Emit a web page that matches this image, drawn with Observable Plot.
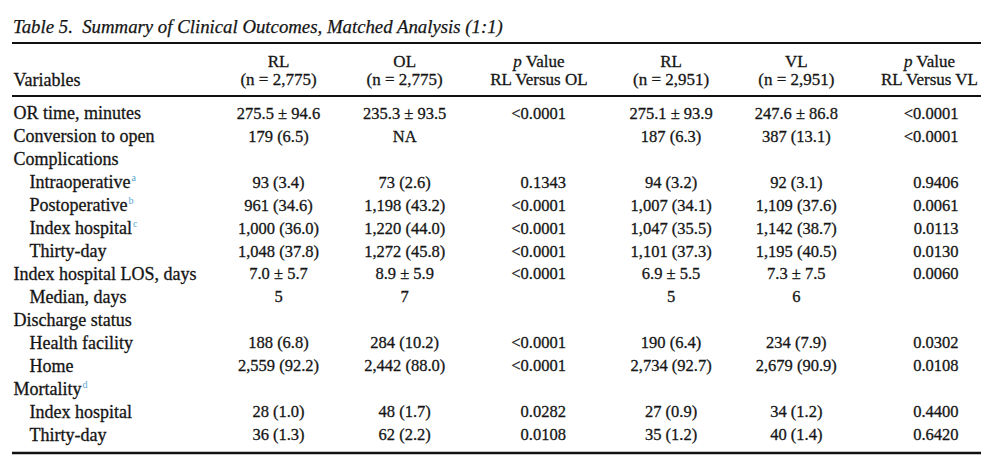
<!DOCTYPE html>
<html>
<head>
<meta charset="utf-8">
<script src="https://cdn.jsdelivr.net/npm/d3@7"></script>
<script src="https://cdn.jsdelivr.net/npm/@observablehq/plot@0.6"></script>
<style>
  html, body { margin: 0; padding: 0; background: #fff; }
  #title {
    margin-left: 12px; width: 969px; height: 44px; box-sizing: border-box;
    border-bottom: 2.5px solid #111; padding-top: 18px; padding-left: 1px;
    font-family: "Liberation Serif", serif; font-style: italic; font-size: 18.8px;
    line-height: 1; color: #151515; white-space: pre;
    -webkit-text-stroke: 0.25px #151515;
  }
  #chart svg { display: block; }
</style>
</head>
<body>
<div id="title">Table 5.  Summary of Clinical Outcomes, Matched Analysis (1:1)</div>
<div id="chart"></div>
<script>
// ---- data ----
const rowLabels = ["OR time, minutes","Conversion to open","Complications","Intraoperative","Postoperative","Index hospital","Thirty-day","Index hospital LOS, days","Median, days","Discharge status","Health facility","Home","Mortality","Index hospital","Thirty-day"];
const rowIndent = [0,0,0,1,1,1,1,0,1,0,1,1,0,1,1];
const rowNotes = ["","","","a","b","c","","","","","","","d","",""];

const columnKeys = ["RL_OL","OL","P_OL","RL_VL","VL","P_VL"];
const headLine1 = ["RL","OL","p Value","RL","VL","p Value"];
const headLine2 = ["(n = 2,775)","(n = 2,775)","RL Versus OL","(n = 2,951)","(n = 2,951)","RL Versus VL"];
const stubHeader = "Variables";

const rlOfOL = ["275.5 ± 94.6","179 (6.5)","","93 (3.4)","961 (34.6)","1,000 (36.0)","1,048 (37.8)","7.0 ± 5.7","5","","188 (6.8)","2,559 (92.2)","","28 (1.0)","36 (1.3)"];
const olValues = ["235.3 ± 93.5","NA","","73 (2.6)","1,198 (43.2)","1,220 (44.0)","1,272 (45.8)","8.9 ± 5.9","7","","284 (10.2)","2,442 (88.0)","","48 (1.7)","62 (2.2)"];
const pRLvsOL = ["<0.0001","","","0.1343","<0.0001","<0.0001","<0.0001","<0.0001","","","<0.0001","<0.0001","","0.0282","0.0108"];
const rlOfVL = ["275.1 ± 93.9","187 (6.3)","","94 (3.2)","1,007 (34.1)","1,047 (35.5)","1,101 (37.3)","6.9 ± 5.5","5","","190 (6.4)","2,734 (92.7)","","27 (0.9)","35 (1.2)"];
const vlValues = ["247.6 ± 86.8","387 (13.1)","","92 (3.1)","1,109 (37.6)","1,142 (38.7)","1,195 (40.5)","7.3 ± 7.5","6","","234 (7.9)","2,679 (90.9)","","34 (1.2)","40 (1.4)"];
const pRLvsVL = ["<0.0001","<0.0001","","0.9406","0.0061","0.0113","0.0130","0.0060","","","0.0302","0.0108","","0.4400","0.6420"];

// ---- build ----
const rows = rowLabels.map((label, i) => ({id: i, label, indent: rowIndent[i], note: rowNotes[i]}));
const topRows = rows.filter(r => !r.indent);
const subRows = rows.filter(r => r.indent);
const columnValues = [rlOfOL, olValues, pRLvsOL, rlOfVL, vlValues, pRLvsVL];
// per-column text styling: p-value columns right aligned
const columnStyle = [
  {anchor: "middle", dx: 0, hdx: 0},
  {anchor: "middle", dx: -4, hdx: -4},
  {anchor: "end", dx: 27, hdx: 0},
  {anchor: "middle", dx: 2, hdx: 2},
  {anchor: "middle", dx: -3, hdx: -3},
  {anchor: "end", dx: 29, hdx: 0}
];

const FS_LABEL = 18, FS_HEAD = 17, FS_NUM = 16.5;
const ink = "#151515";
const textStyle = {fill: ink, stroke: ink, strokeWidth: 0.3};
const marks = [
  Plot.ruleY([rows[0].id], {dy: -17.5, stroke: "#111", strokeWidth: 2}),
  Plot.ruleY([rows[rows.length - 1].id], {dy: 18, stroke: "#111", strokeWidth: 2.5}),
  Plot.text([stubHeader], {frameAnchor: "top-left", text: d => d, dx: 1, dy: -22.1, lineAnchor: "middle", fontSize: FS_LABEL, ...textStyle}),
  ...columnKeys.flatMap((key, i) => [
    Plot.text([headLine1[i]], {x: () => key, frameAnchor: "top", text: d => d, dx: columnStyle[i].hdx, dy: -40.4, lineAnchor: "middle", fontSize: FS_HEAD, ...textStyle}),
    Plot.text([headLine2[i]], {x: () => key, frameAnchor: "top", text: d => d, dx: columnStyle[i].hdx, dy: -22.1, lineAnchor: "middle", fontSize: FS_HEAD, ...textStyle})
  ]),
  Plot.text(topRows, {y: "id", text: "label", frameAnchor: "left", textAnchor: "start", dx: 1, fontSize: FS_LABEL, ...textStyle}),
  Plot.text(subRows, {y: "id", text: "label", frameAnchor: "left", textAnchor: "start", dx: 17, fontSize: FS_LABEL, ...textStyle}),
  ...columnKeys.map((key, i) => Plot.text(rows.filter(r => columnValues[i][r.id] !== ""), {
    x: () => key, y: "id", text: r => columnValues[i][r.id],
    textAnchor: columnStyle[i].anchor, dx: columnStyle[i].dx, fontSize: FS_NUM, ...textStyle
  }))
];

const svg = Plot.plot({
  width: 1000,
  height: 418,
  marginLeft: 12,
  marginRight: 19,
  marginTop: 57.5,
  marginBottom: 16.1,
  x: {type: "point", domain: columnKeys, range: [278, 929], padding: 0, round: false, axis: null},
  y: {type: "point", domain: rows.map(r => r.id), padding: 0.5, round: false, axis: null},
  style: {fontFamily: "'Liberation Serif', serif", fontSize: FS_LABEL + "px", color: ink, background: "#fff", overflow: "visible"},
  marks
});

const texts = Array.from(svg.querySelectorAll("text"));
// italic "p" in the p Value headers
texts.forEach(el => {
  if (el.textContent === "p Value") {
    const t = d3.select(el);
    t.text(null);
    t.append("tspan").attr("font-style", "italic").text("p");
    t.append("tspan").text(" Value");
  }
});
// superscript footnote marks, in document order of the label marks
const seq = [...topRows, ...subRows];
let k = 0;
texts.forEach(el => {
  if (k < seq.length && el.textContent === seq[k].label) {
    const r = seq[k++];
    if (r.note) {
      d3.select(el).append("tspan")
        .attr("dy", "-7").attr("dx", "1")
        .attr("font-size", "10px")
        .attr("fill", "#5aa6cf").attr("stroke", "none")
        .text(r.note);
    }
  }
});

document.getElementById("chart").appendChild(svg);
</script>
</body>
</html>
